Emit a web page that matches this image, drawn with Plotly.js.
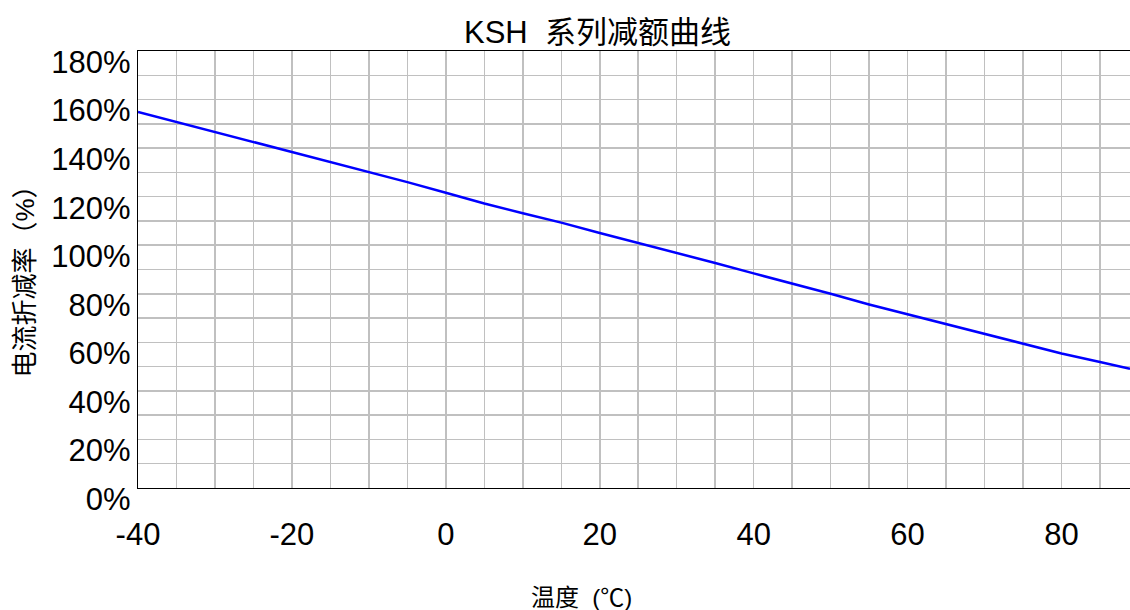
<!DOCTYPE html>
<html>
<head>
<meta charset="utf-8">
<script src="https://cdn.plot.ly/plotly-3.0.1.min.js"></script>
<style>html,body{margin:0;padding:0;background:#fff;}#chart{width:1130px;height:610px;}</style>
</head>
<body>
<div id="chart"></div>
<script>
// Data
const temperatures = [-40, -35, -30, -25, -20, -15, -10, -5, 0, 5, 10, 15, 20, 25, 30, 35, 40, 45, 50, 55, 60, 65, 70, 75, 80, 85, 88.9];
const deratingPct  = [154.9, 150.8, 146.7, 142.6, 138.4, 134.5, 130.2, 126.0, 121.6, 117.2, 113.2, 109.3, 105.0, 101.0, 96.8, 92.7, 88.4, 84.3, 80.0, 75.6, 71.5, 67.5, 63.3, 59.2, 55.4, 51.9, 49.1];
const xTickVals = [-40, -20, 0, 20, 40, 60, 80];
const yTickVals = [0, 20, 40, 60, 80, 100, 120, 140, 160, 180];
const yTickText = yTickVals.map(v => v + '%');
const chartTitle = 'KSH&nbsp;&nbsp;系列减额曲线';
const xTitle = '温度&nbsp;&nbsp;(℃)';
const yTitle = '电流折减率（%）';

const FONT = '"Liberation Sans", Arial, "Noto Sans CJK SC", sans-serif';
const CJK = '"Liberation Sans", "Noto Sans CJK SC", sans-serif';

const trace = {
  x: temperatures,
  y: deratingPct,
  type: 'scatter',
  mode: 'lines',
  line: {color: '#0000ff', width: 2.5},
  hoverinfo: 'skip'
};

const layout = {
  width: 1130,
  height: 610,
  margin: {l: 137.5, r: 0, t: 51, b: 122},
  paper_bgcolor: '#ffffff',
  plot_bgcolor: '#ffffff',
  showlegend: false,
  font: {family: FONT, color: '#000000'},
  xaxis: {
    range: [-40, 88.9],
    tickvals: xTickVals,
    ticktext: xTickVals.map(String),
    ticks: '',
    ticklabelstandoff: 19,
    tickfont: {family: FONT, size: 31, color: '#000000'},
    showgrid: true,
    gridcolor: '#c0c0c0',
    gridwidth: 1.5,
    minor: {dtick: 5, tick0: -40, showgrid: true, gridcolor: '#c0c0c0', gridwidth: 1.5},
    showline: true,
    linecolor: '#000000',
    linewidth: 1.2,
    mirror: true,
    zeroline: false,
    fixedrange: true
  },
  yaxis: {
    range: [0, 180],
    tickvals: yTickVals,
    ticktext: yTickText,
    ticks: '',
    ticklabelshift: 11,
    ticklabelstandoff: 0,
    tickfont: {family: FONT, size: 31, color: '#000000'},
    showgrid: true,
    gridcolor: '#c0c0c0',
    gridwidth: 1.5,
    minor: {dtick: 10, tick0: 0, showgrid: true, gridcolor: '#c0c0c0', gridwidth: 1.5},
    showline: true,
    linecolor: '#000000',
    linewidth: 1.2,
    mirror: false,
    zeroline: false,
    fixedrange: true
  },
  annotations: [
    {
      text: chartTitle, xref: 'paper', yref: 'paper',
      x: (597 - 137.5) / (1130 - 137.5), y: 1 + (51 - 32) / (610 - 51 - 122),
      xanchor: 'center', yanchor: 'middle', showarrow: false,
      font: {family: CJK, size: 31, color: '#000000'}
    },
    {
      text: xTitle, xref: 'paper', yref: 'paper',
      x: (581 - 137.5) / (1130 - 137.5), y: -(597 - 488) / (610 - 51 - 122),
      xanchor: 'center', yanchor: 'middle', showarrow: false,
      font: {family: CJK, size: 24, color: '#000000'}
    },
    {
      text: yTitle, xref: 'paper', yref: 'paper',
      x: -(137.5 - 24) / (1130 - 137.5), y: (488 - 275) / (610 - 51 - 122),
      xanchor: 'center', yanchor: 'middle', showarrow: false, textangle: -90,
      font: {family: CJK, size: 26, color: '#000000'}
    }
  ]
};

Plotly.newPlot('chart', [trace], layout, {staticPlot: true, displayModeBar: false});
</script>
</body>
</html>
